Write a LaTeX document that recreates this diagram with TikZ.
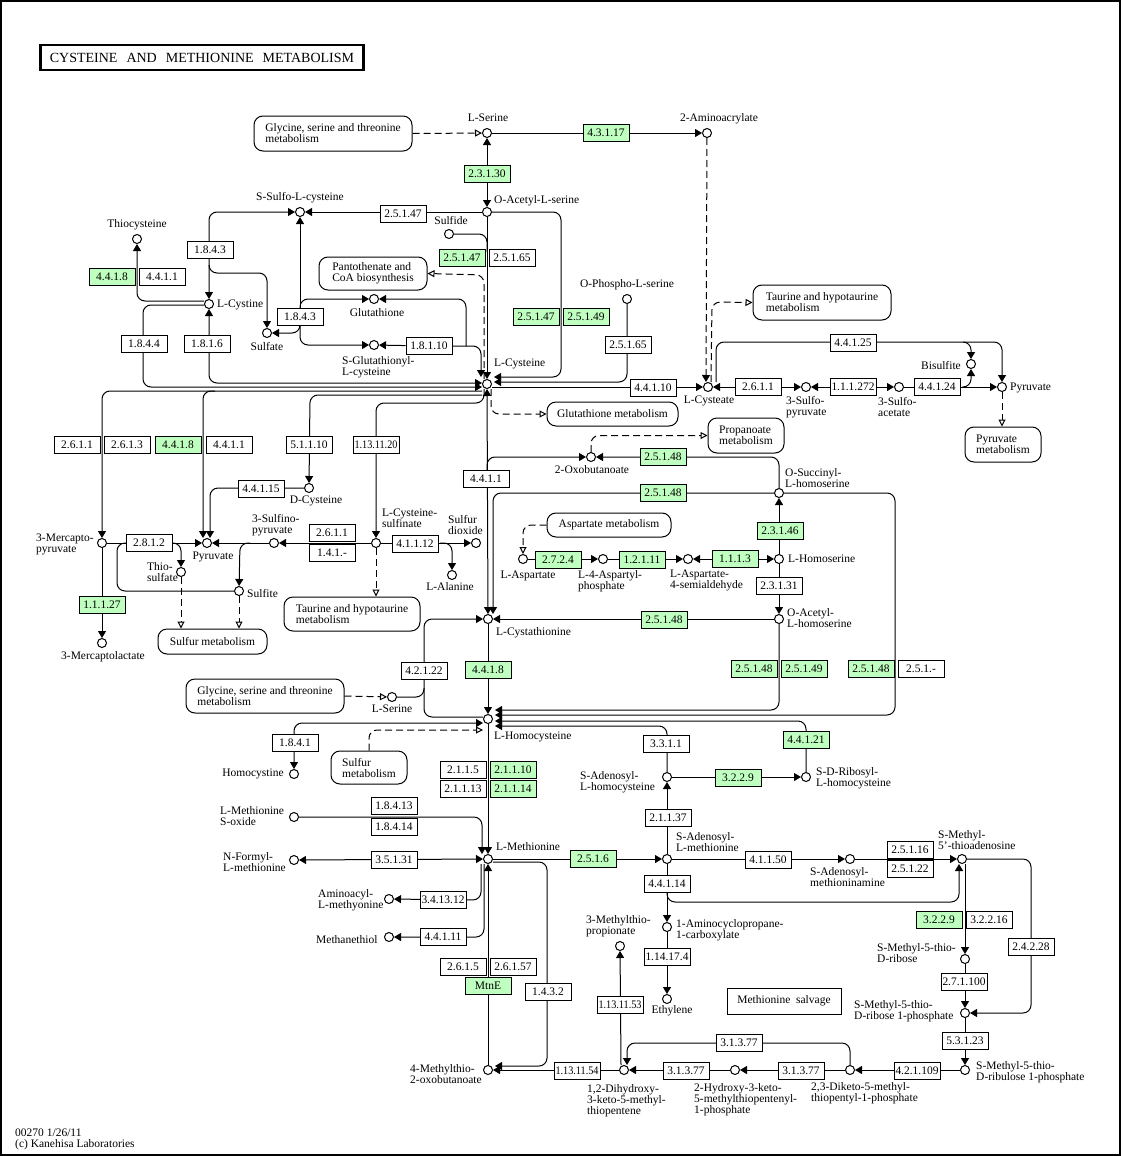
\documentclass[tikz,border=0pt]{standalone}
\usepackage{fontspec}
\setmainfont{Liberation Serif}
\usetikzlibrary{arrows.meta,backgrounds}
\definecolor{kgreen}{HTML}{BFFFBF}
\newcommand{\squeeze}[1]{\resizebox{43pt}{\height}{#1}}
\tikzset{
  cpd/.style={circle,draw,line width=1pt,fill=white,minimum size=9pt,inner sep=0pt},
  ec/.style={rectangle,draw,line width=1pt,fill=white,minimum width=46pt,minimum height=17pt,
    inner sep=0pt,font=\fontsize{11.5}{11}\selectfont},
  gec/.style={ec,fill=kgreen},
  pmap/.style={rectangle,draw,line width=1pt,rounded corners=9pt,fill=white,inner sep=0pt,
    align=left,font=\fontsize{11.5}{11}\selectfont},
  txt/.style={inner sep=0pt,align=left,font=\fontsize{11.5}{11}\selectfont},
  link/.style={line width=1pt,rounded corners=8pt},
  arr/.style={link,-{Triangle[length=7pt,width=8pt]}},
  rev/.style={link,{Triangle[length=7pt,width=8pt]}-{Triangle[length=7pt,width=8pt]}},
  darr/.style={link,dash pattern=on 7pt off 4pt,-{Triangle[open,length=7pt,width=7pt,fill=white]}},
  dfill/.style={link,dash pattern=on 7pt off 4pt,-{Triangle[length=7pt,width=8pt]}},
}
\begin{document}
\begin{tikzpicture}[x=1pt,y=-1pt]
\useasboundingbox (0,0) rectangle (1122,1156);
\draw[line width=2pt] (1,1) rectangle (1120,1155);
\node[draw,line width=2.5pt,minimum width=323pt,minimum height=25pt,inner sep=0pt,
  font=\fontsize{14}{14}\selectfont] (title) at (202,57.5)
  {CYSTEINE\hspace{9pt}AND\hspace{9pt}METHIONINE\hspace{9pt}METABOLISM};
\node[txt,anchor=west] (foot) at (15,1139) {00270 1/26/11\\(c) Kanehisa Laboratories};

% pathway maps
\node[pmap,minimum width=158pt,minimum height=35pt] (glyA) at (333,133.5) {Glycine, serine and threonine\\metabolism};
\node[pmap,minimum width=108pt,minimum height=33pt] (panto) at (373,273.5) {Pantothenate and\\CoA biosynthesis};
\node[pmap,minimum width=138pt,minimum height=35pt] (taurA) at (822,302.5) {Taurine and hypotaurine\\metabolism};
\node[pmap,minimum width=131pt,minimum height=24pt] (gshM) at (612.5,414) {Glutathione metabolism};
\node[pmap,minimum width=76pt,minimum height=35pt] (propM) at (746,435.5) {Propanoate\\metabolism};
\node[pmap,minimum width=76pt,minimum height=35pt] (pyrM) at (1003,444.5) {Pyruvate\\metabolism};
\node[pmap,minimum width=124pt,minimum height=24pt] (aspM) at (609,525) {Aspartate metabolism};
\node[pmap,minimum width=109pt,minimum height=25pt] (sulfA) at (212.5,641.5) {Sulfur metabolism};
\node[pmap,minimum width=136pt,minimum height=34pt] (taurB) at (352,614) {Taurine and hypotaurine\\metabolism};
\node[pmap,minimum width=158pt,minimum height=34pt] (glyB) at (265,696) {Glycine, serine and threonine\\metabolism};
\node[pmap,minimum width=76pt,minimum height=33pt] (sulfB) at (369,767.5) {Sulfur\\metabolism};
\node[txt,draw,line width=1pt,minimum width=114pt,minimum height=26pt] (salv) at (784,1001) {Methionine\ \ salvage};

% compounds
\node[cpd] (lser) at (487,133) {};
\node[cpd] (amacr) at (707,133) {};
\node[cpd] (oacser) at (487,212) {};
\node[cpd] (ssulfo) at (300,212) {};
\node[cpd] (thiocys) at (137,239) {};
\node[cpd] (sulfide) at (449,234) {};
\node[cpd] (lcystine) at (209,304) {};
\node[cpd] (gsh) at (374,299) {};
\node[cpd] (sulfate) at (267,333) {};
\node[cpd] (gscys) at (374,345) {};
\node[cpd] (ophser) at (627,299) {};
\node[cpd] (lcys) at (487,384) {};
\node[cpd] (cysteate) at (708,387) {};
\node[cpd] (sulfopyr) at (806,387) {};
\node[cpd] (sulfoac) at (899,387) {};
\node[cpd] (bisulf) at (971,364) {};
\node[cpd] (pyrR) at (1002,387) {};
\node[cpd] (oxobut) at (591,457) {};
\node[cpd] (osuchser) at (779,493) {};
\node[cpd] (mercpyr) at (102,543) {};
\node[cpd] (pyrL) at (207,543) {};
\node[cpd] (sulfinpyr) at (274,543) {};
\node[cpd] (cyssulfin) at (376,543) {};
\node[cpd] (sdiox) at (476,543) {};
\node[cpd] (thiosulf) at (181,572) {};
\node[cpd] (sulfite) at (239,591) {};
\node[cpd] (lala) at (452,575) {};
\node[cpd] (dcys) at (309,488) {};
\node[cpd] (lasp) at (523,559) {};
\node[cpd] (asppho) at (603,559) {};
\node[cpd] (aspsal) at (688,559) {};
\node[cpd] (lhser) at (779,559) {};
\node[cpd] (oachser) at (779,619) {};
\node[cpd] (merclac) at (102,643) {};
\node[cpd] (cysta) at (488,619) {};
\node[cpd] (lser2) at (392,697) {};
\node[cpd] (lhcys) at (488,719) {};
\node[cpd] (hcystine) at (294,774) {};
\node[cpd] (sah) at (667,777) {};
\node[cpd] (srh) at (806,777) {};
\node[cpd] (metso) at (294,817) {};
\node[cpd] (fmet) at (294,860) {};
\node[cpd] (lmet) at (488,859) {};
\node[cpd] (sam) at (667,859) {};
\node[cpd] (dcsam) at (850,859) {};
\node[cpd] (mta) at (962,859) {};
\node[cpd] (aamet) at (389,899) {};
\node[cpd] (mesh) at (389,937) {};
\node[cpd] (mtprop) at (620,946) {};
\node[cpd] (acc) at (667,927) {};
\node[cpd] (ethyl) at (667,999) {};
\node[cpd] (mtr) at (965,959) {};
\node[cpd] (mtrp) at (965,1013) {};
\node[cpd] (mtrup) at (965,1070) {};
\node[cpd] (dkmtp) at (850,1070) {};
\node[cpd] (hkmtp) at (735,1070) {};
\node[cpd] (dhkmp) at (624,1070) {};
\node[cpd] (mtob) at (488,1070) {};

% compound names
\node[txt] (tLSer) at (488,118) {L-Serine};
\node[txt] (tAmAcr) at (719,119) {2-Aminoacrylate};
\node[txt,anchor=west] (tOAcSer) at (494,201) {O-Acetyl-L-serine};
\node[txt] (tSSulfo) at (300,198) {S-Sulfo-L-cysteine};
\node[txt] (tThioCys) at (137,225) {Thiocysteine};
\node[txt] (tSulfide) at (451,221) {Sulfide};
\node[txt,anchor=west] (tLCystine) at (217,305) {L-Cystine};
\node[txt] (tGSH) at (377,313) {Glutathione};
\node[txt] (tSulfate) at (267,347) {Sulfate};
\node[txt,anchor=west] (tGSCys) at (342,367.5) {S-Glutathionyl-\\L-cysteine};
\node[txt] (tOPhSer) at (627,285) {O-Phospho-L-serine};
\node[txt,anchor=west] (tLCys) at (494,364) {L-Cysteine};
\node[txt] (tCysteate) at (709,401) {L-Cysteate};
\node[txt,anchor=west] (tSulfoPyr) at (786,407.5) {3-Sulfo-\\pyruvate};
\node[txt,anchor=west] (tSulfoAc) at (878,407.5) {3-Sulfo-\\acetate};
\node[txt,anchor=east] (tBisulf) at (961,366) {Bisulfite};
\node[txt,anchor=west] (tPyrR) at (1010,388) {Pyruvate};
\node[txt] (tOxoBut) at (592,470) {2-Oxobutanoate};
\node[txt,anchor=west] (tOSucHSer) at (785,478.5) {O-Succinyl-\\L-homoserine};
\node[txt,anchor=west] (tMercPyr) at (36,544) {3-Mercapto-\\pyruvate};
\node[txt] (tPyrL) at (213,557) {Pyruvate};
\node[txt,anchor=west] (tSulfinPyr) at (252,525.5) {3-Sulfino-\\pyruvate};
\node[txt,anchor=west] (tCysSulfin) at (382,518.5) {L-Cysteine-\\sulfinate};
\node[txt,anchor=west] (tSDiox) at (448,525) {Sulfur\\dioxide};
\node[txt,anchor=west] (tThioSulf) at (147,572) {Thio-\\sulfate};
\node[txt,anchor=west] (tSulfite) at (247,593) {Sulfite};
\node[txt] (tLAla) at (450,587) {L-Alanine};
\node[txt] (tDCys) at (316,501) {D-Cysteine};
\node[txt] (tLAsp) at (528,576) {L-Aspartate};
\node[txt,anchor=west] (tAspPho) at (578,581.5) {L-4-Aspartyl-\\phosphate};
\node[txt,anchor=west] (tAspSal) at (670,580.5) {L-Aspartate-\\4-semialdehyde};
\node[txt,anchor=west] (tLHSer) at (788,559) {L-Homoserine};
\node[txt,anchor=west] (tOAcHSer) at (787,618.5) {O-Acetyl-\\L-homoserine};
\node[txt] (tMercLac) at (103,657) {3-Mercaptolactate};
\node[txt,anchor=west] (tCysta) at (496,633) {L-Cystathionine};
\node[txt] (tLSer2) at (392,709) {L-Serine};
\node[txt,anchor=west] (tLHCys) at (494,737) {L-Homocysteine};
\node[txt] (tHCystine) at (253,774) {Homocystine};
\node[txt,anchor=west] (tSAH) at (580,782) {S-Adenosyl-\\L-homocysteine};
\node[txt,anchor=west] (tSRH) at (816,778.5) {S-D-Ribosyl-\\L-homocysteine};
\node[txt,anchor=west] (tMetSO) at (220,816.5) {L-Methionine\\S-oxide};
\node[txt,anchor=west] (tFMet) at (223,862.5) {N-Formyl-\\L-methionine};
\node[txt,anchor=west] (tLMet) at (496,847) {L-Methionine};
\node[txt,anchor=west] (tSAM) at (676,842) {S-Adenosyl-\\L-methionine};
\node[txt,anchor=west] (tDcSAM) at (810,877) {S-Adenosyl-\\methioninamine};
\node[txt,anchor=west] (tMTA) at (938,840) {S-Methyl-\\5'-thioadenosine};
\node[txt,anchor=west] (tAAMet) at (318,900.5) {Aminoacyl-\\L-methyonine};
\node[txt,anchor=west] (tMeSH) at (316,940) {Methanethiol};
\node[txt,anchor=west] (tMTProp) at (586,926.5) {3-Methylthio-\\propionate};
\node[txt,anchor=west] (tACC) at (676,930.5) {1-Aminocyclopropane-\\1-carboxylate};
\node[txt] (tEthyl) at (672,1011) {Ethylene};
\node[txt,anchor=west] (tMTR) at (877,953.5) {S-Methyl-5-thio-\\D-ribose};
\node[txt,anchor=west] (tMTRP) at (854,1011.5) {S-Methyl-5-thio-\\D-ribose 1-phosphate};
\node[txt,anchor=west] (tMTRuP) at (976,1072.5) {S-Methyl-5-thio-\\D-ribulose 1-phosphate};
\node[txt,anchor=west] (tDKMTP) at (811,1093) {2,3-Diketo-5-methyl-\\thiopentyl-1-phosphate};
\node[txt,anchor=west] (tHKMTP) at (694,1099.5) {2-Hydroxy-3-keto-\\5-methylthiopentenyl-\\1-phosphate};
\node[txt,anchor=west] (tDHKMP) at (587,1100.5) {1,2-Dihydroxy-\\3-keto-5-methyl-\\thiopentene};
\node[txt,anchor=west] (tMTOB) at (410,1074) {4-Methylthio-\\2-oxobutanoate};

% enzymes
\node[gec] (ec23130) at (487,174) {2.3.1.30};
\node[gec] (ec43117) at (606,133) {4.3.1.17};
\node[ec] (ec25147a) at (403,214) {2.5.1.47};
\node[gec] (ec25147b) at (462,258) {2.5.1.47};
\node[ec] (ec25165a) at (512,258) {2.5.1.65};
\node[gec] (ec25147c) at (536,317) {2.5.1.47};
\node[gec] (ec25149a) at (586,317) {2.5.1.49};
\node[ec] (ec25165b) at (628,345) {2.5.1.65};
\node[ec] (ec1843a) at (210,250) {1.8.4.3};
\node[gec] (ec4418a) at (112,277) {4.4.1.8};
\node[ec] (ec4411a) at (162,277) {4.4.1.1};
\node[ec] (ec1843b) at (300,317) {1.8.4.3};
\node[ec] (ec18110) at (429,346) {1.8.1.10};
\node[ec] (ec1844) at (144,344) {1.8.4.4};
\node[ec] (ec1816) at (207,344) {1.8.1.6};
\node[ec] (ec44110) at (653,388) {4.4.1.10};
\node[ec] (ec2611a) at (758,387) {2.6.1.1};
\node[ec] (ec111272) at (853,387) {\squeeze{1.1.1.272}};
\node[ec] (ec44124) at (937,387) {4.4.1.24};
\node[ec] (ec44125) at (853,343) {4.4.1.25};
\node[ec] (ec2611b) at (77,445) {2.6.1.1};
\node[ec] (ec2613) at (127,445) {2.6.1.3};
\node[gec] (ec4418b) at (178,445) {4.4.1.8};
\node[ec] (ec4411b) at (229,445) {4.4.1.1};
\node[ec] (ec51110) at (309,445) {5.1.1.10};
\node[ec] (ec1131120) at (376,445) {\squeeze{1.13.11.20}};
\node[ec] (ec4411c) at (486,479) {4.4.1.1};
\node[gec] (ec25148a) at (663,457) {2.5.1.48};
\node[gec] (ec25148b) at (663,493) {2.5.1.48};
\node[ec] (ec44115) at (261,489) {4.4.1.15};
\node[ec] (ec2812) at (149,543) {2.8.1.2};
\node[ec] (ec2611c) at (332,533) {2.6.1.1};
\node[ec] (ec141x) at (332,553) {1.4.1.-};
\node[ec] (ec41112) at (415,544) {4.1.1.12};
\node[gec] (ec2724) at (558,560) {2.7.2.4};
\node[gec] (ec12111) at (642,560) {1.2.1.11};
\node[gec] (ec1113) at (735,559) {1.1.1.3};
\node[gec] (ec23146) at (780,531) {2.3.1.46};
\node[ec] (ec23131) at (779,586) {2.3.1.31};
\node[gec] (ec11127) at (102,605) {1.1.1.27};
\node[gec] (ec25148c) at (664,620) {2.5.1.48};
\node[ec] (ec42122) at (424,671) {4.2.1.22};
\node[gec] (ec4418c) at (488,670) {4.4.1.8};
\node[gec] (ec25148d) at (754,669) {2.5.1.48};
\node[gec] (ec25149b) at (804,669) {2.5.1.49};
\node[gec] (ec25148e) at (871,669) {2.5.1.48};
\node[ec] (ec251x) at (921,669) {2.5.1.-};
\node[ec] (ec1841) at (295,743) {1.8.4.1};
\node[ec] (ec3311) at (666,744) {3.3.1.1};
\node[gec] (ec44121) at (806,740) {4.4.1.21};
\node[gec] (ec3229a) at (738,778) {3.2.2.9};
\node[ec] (ec2115) at (463,770) {2.1.1.5};
\node[gec] (ec21110) at (513,770) {2.1.1.10};
\node[ec] (ec21113) at (463,789) {2.1.1.13};
\node[gec] (ec21114) at (513,789) {2.1.1.14};
\node[ec] (ec18413) at (394,806) {1.8.4.13};
\node[ec] (ec18414) at (394,827) {1.8.4.14};
\node[ec] (ec21137) at (668,818) {2.1.1.37};
\node[ec] (ec35131) at (394,860) {3.5.1.31};
\node[gec] (ec2516) at (593,859) {2.5.1.6};
\node[ec] (ec41150) at (768,860) {4.1.1.50};
\node[ec] (ec25116) at (910,850) {2.5.1.16};
\node[ec] (ec25122) at (910,869) {2.5.1.22};
\node[ec] (ec44114) at (667,884) {4.4.1.14};
\node[ec] (ec341312) at (443,900) {\squeeze{3.4.13.12}};
\node[ec] (ec44111) at (443,937) {4.4.1.11};
\node[gec] (ec3229b) at (939,920) {3.2.2.9};
\node[ec] (ec32216) at (989,920) {3.2.2.16};
\node[ec] (ec24228) at (1031,947) {2.4.2.28};
\node[ec] (ec114174) at (667,957) {\squeeze{1.14.17.4}};
\node[ec] (ec2615) at (463,967) {2.6.1.5};
\node[ec] (ec26157) at (513,967) {2.6.1.57};
\node[gec] (mtnE) at (488,986) {MtnE};
\node[ec] (ec1432) at (548,992) {1.4.3.2};
\node[ec] (ec271100) at (964,982) {\squeeze{2.7.1.100}};
\node[ec] (ec1131153) at (620,1005) {\squeeze{1.13.11.53}};
\node[ec] (ec53123) at (965,1041) {5.3.1.23};
\node[ec] (ec31377a) at (739,1043) {3.1.3.77};
\node[ec] (ec1131154) at (577,1071) {\squeeze{1.13.11.54}};
\node[ec] (ec31377b) at (686,1071) {3.1.3.77};
\node[ec] (ec31377c) at (801,1071) {3.1.3.77};
\node[ec] (ec421109) at (917,1071) {\squeeze{4.2.1.109}};

\begin{scope}[on background layer]
% serine and cysteine synthesis
\draw[darr] (glyA.east) -- (lser);
\draw[arr] (lser) -- (amacr);
\draw[rev] (oacser) -- (lser);
\draw[arr] (oacser) -- (ssulfo);
\draw[arr] (oacser) -- (lcys);
\draw[arr] (oacser) -- (561,212) -- (561,377) -- ([xshift=2pt,yshift=7pt]lcys.east);
\draw[arr] (ophser) -- (627,382) -- ([xshift=2pt,yshift=2pt]lcys.east);
\draw[link] (sulfide) -- (487,234) -- (487,252);
\draw[darr] ([xshift=-3pt]lcys.north) -- (484,275) -- (panto.east);
% glutathione side
\coordinate (jgsh) at (466,346);
\draw[arr] (ec18110) -- (gscys);
\draw[arr] (ec18110) -- (481,346) -- ([xshift=-6pt,yshift=2pt]lcys.north);
\draw[arr] (jgsh) -- (466,299) -- (gsh);
\draw[arr] (ec1843b) -- (ssulfo);
\draw[arr] (300,310) -- (300,299) -- (gsh);
\draw[arr] (300,324) -- (300,333) -- (sulfate);
\draw[arr] (300,324) -- (300,345) -- (gscys);
\draw[rev] (lcystine) -- (209,212) -- (ssulfo);
\draw[arr] (209,265) -- (209,273) -- (267,273) -- (sulfate);
\draw[arr] ([yshift=3pt]lcystine.west) -- (137,301) -- (thiocys);
\draw[arr] ([yshift=-1pt]lcystine.west) -- (143,305) -- (143,387) -- ([yshift=-3pt]lcys.west);
\draw[rev] (lcystine) -- (209,383) -- ([yshift=1pt]lcys.west);
% cysteine degradation to the left
\draw[arr] ([yshift=-7pt]lcys.west) -- (102,391) -- (mercpyr);
\draw[arr] (215,391) -- (203,391) -- ([xshift=-4pt]pyrL.north);
\draw[arr] ([yshift=-11pt]lcys.west) -- (310,395) -- (dcys);
\draw[arr] ([xshift=-3pt]lcys.south) -- (484,403) -- (376,403) -- (cyssulfin);
\draw[arr] (dcys) -- (210,488) -- ([xshift=3pt]pyrL.north);
\draw[arr] (cyssulfin) -- (sulfinpyr);
\draw[arr] (sulfinpyr) -- (pyrL);
\draw[arr] (250,543) -- (240,543) -- (sulfite);
\draw[arr] (cyssulfin) -- (sdiox);
\draw[arr] (440,543) -- (452,543) -- (lala);
\draw[darr] (cyssulfin) -- (cyssulfin |- taurB.north);
\draw[arr] (mercpyr) -- (pyrL);
\draw[arr] (172,543) -- (181,543) -- (thiosulf);
\draw[link] (127,543) -- (117,543) -- (117,591) -- (sulfite);
\draw[arr] (mercpyr) -- (merclac);
\draw[darr] (thiosulf) -- (thiosulf |- sulfA.north);
\draw[darr] (sulfite) -- (sulfite |- sulfA.north);
% cysteate branch
\draw[arr] ([yshift=-3pt]lcys.east) -- (cysteate);
\draw[dfill] (amacr) -- ([xshift=-2pt]cysteate.north);
\draw[darr] ([xshift=3pt]cysteate.north) -- (712,302) -- (taurA.west);
\draw[arr] ([xshift=8pt]cysteate.north) -- (716,342) -- (1002,342) -- (pyrR);
\draw[arr] (963,342) -- (971,342) -- (bisulf);
\draw[rev] (cysteate) -- (sulfopyr);
\draw[rev] (sulfopyr) -- (sulfoac);
\draw[arr] (sulfoac) -- (pyrR);
\draw[arr] (962,387) -- (971,387) -- (bisulf);
\draw[darr] (pyrR) -- (pyrR |- pyrM.north);
\draw[darr] ([xshift=4pt]lcys.south) -- (491,414) -- (gshM.west);
% transsulfuration
\draw[arr] (487,470) -- (487,457) -- (oxobut);
\draw[arr] (osuchser) -- (779,457) -- (oxobut);
\draw[darr] (oxobut) -- (591,435.5) -- (propM.west);
\draw[arr] (osuchser) -- (493,493) -- ([xshift=5pt]cysta.north);
\draw[arr] (osuchser) -- (895,493) -- (895,715) -- ([xshift=2pt,yshift=4pt]lhcys.east);
\draw[darr] (aspM.west) -- (523,525) -- (lasp);
\draw[arr] (lasp) -- (asppho);
\draw[arr] (asppho) -- (aspsal);
\draw[rev] (aspsal) -- (lhser);
\draw[arr] (lhser) -- (osuchser);
\draw[arr] (lhser) -- (oachser);
\draw[arr] (oachser) -- (cysta);
\draw[arr] (oachser) -- (779,710) -- ([xshift=2pt,yshift=9pt]lhcys.east);
\draw[rev] (cysta) -- (lcys);
\draw[arr] (cysta) -- (lhcys);
\draw[arr] ([yshift=2pt]lhcys.west) -- (424,717) -- (424,619) -- (cysta);
\draw[link] (lser2) -- (424,697) -- (424,688);
\draw[darr] (glyB.east) -- (lser2);
\draw[rev] ([yshift=-4pt]lhcys.west) -- (294,723) -- (hcystine);
\draw[darr] (sulfB.north) -- (369,730) -- ([yshift=-11pt]lhcys.west);
% methionine cycle
\draw[arr] (sah) -- (667,726) -- ([xshift=2pt,yshift=-7pt]lhcys.east);
\draw[arr] (srh) -- (806,721) -- ([xshift=2pt,yshift=-2pt]lhcys.east);
\draw[arr] (sah) -- (srh);
\draw[arr] (sam) -- (sah);
\draw[arr] (lhcys) -- (lmet);
\draw[arr] (metso) -- (482,817) -- ([xshift=-6pt]lmet.north);
\draw[rev] (fmet) -- (lmet);
\draw[arr] (lmet) -- (sam);
\draw[arr] (sam) -- (dcsam);
\draw[arr] (dcsam) -- (mta);
\draw[arr] (sam) -- (acc);
\draw[arr] (667,893) -- (667,902) -- (959,902) -- ([xshift=-3pt]mta.south);
\draw[arr] (acc) -- (ethyl);
\draw[arr] ([xshift=3pt]mta.south) -- (mtr);
\draw[arr] (mta) -- (1031,859) -- (1031,1013) -- (mtrp);
\draw[arr] (mtr) -- (mtrp);
\draw[arr] (mtrp) -- (mtrup);
\draw[arr] (mtrup) -- (dkmtp);
\draw[arr] (dkmtp) -- (hkmtp);
\draw[arr] (dkmtp) -- (850,1043) -- (627,1043) -- ([xshift=3pt]dhkmp.north);
\draw[arr] (hkmtp) -- (dhkmp);
\draw[arr] ([xshift=-3pt]dhkmp.north) -- (mtprop);
\draw[arr] (dhkmp) -- (mtob);
\draw[arr] ([yshift=-3pt]lmet.east) -- (547,862) -- (547,1066) -- ([xshift=2pt,yshift=4pt]mtob.east);
\draw[arr] (mtob) -- (lmet);
\draw[arr] ([xshift=-7pt]lmet.south) -- (481,900) -- (aamet);
\draw[arr] ([xshift=-4pt]lmet.south) -- (484,937) -- (mesh);
\end{scope}
\end{tikzpicture}
\end{document}
